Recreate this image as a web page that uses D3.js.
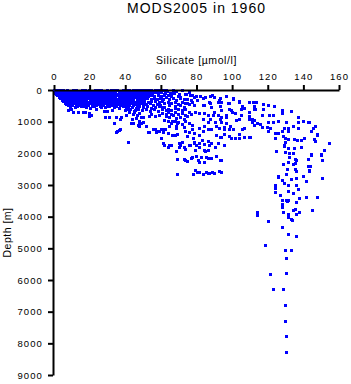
<!DOCTYPE html>
<html>
<head>
<meta charset="utf-8">
<script src="https://cdn.jsdelivr.net/npm/d3@7"></script>
<style>
  html, body { margin: 0; padding: 0; background: #fff; }
  svg { display: block; }
  text { font-family: "Liberation Sans", Arial, sans-serif; fill: #000; }
</style>
</head>
<body>
<svg id="chart" width="351" height="384"></svg>
<script>
const title = "MODS2005 in 1960";
const xLabel = "Silicate [\u00b5mol/l]";
const yLabel = "Depth [m]";
const xTicks = [0, 20, 40, 60, 80, 100, 120, 140, 160];
const yTicks = [0, 1000, 2000, 3000, 4000, 5000, 6000, 7000, 8000, 9000];

// [silicate µmol/l, depth m] — dense near-surface band
const surfaceBand = [
  [0.4,12],[2.1,30],[3.9,8],[5.6,26],[7.4,14],[9.1,35],[10.9,6],[12.7,22],[14.4,40],[16.2,10],[17.9,28],[19.7,15],[21.5,36],[23.2,9],[25,24],[26.8,12],[28.5,33],[30.3,18],[32,7],[33.8,29],[35.6,14],[37.3,38],[39.1,10],[40.8,25],[42.6,16],[44.4,31],[46.1,8],[47.9,21],[49.6,12],[51.4,27],[53.1,9],[55,20],[56.8,8],[58.6,30],[60.3,15],[62,25],
  [1.3,55],[3,68],[4.8,48],[6.5,62],[8.3,52],[10,70],[11.8,45],[13.6,60],[15.3,50],[17.1,66],[18.8,47],[20.6,58],[22.4,69],[24.1,52],[25.9,63],[27.7,46],[29.4,57],[31.2,68],[32.9,50],[34.7,61],[36.5,45],[38.2,65],[40,54],[41.7,48],[43.5,67],[45.3,56],[47,62],[48.8,45],[50.5,59],[52.3,68],[54.1,50],[55.9,64],
  [0.8,95],[2.6,120],[4.3,88],[6.1,110],[7.8,130],[9.6,92],[11.4,115],[13.1,84],[14.9,126],[16.6,100],[18.4,80],[20.2,118],[21.9,97],[23.7,131],[25.5,86],[27.2,108],[29,124],[30.7,90],[32.5,112],[34.3,82],[36,128],[37.8,104],[39.5,93],[41.3,119],[43.1,85],[44.8,110],[46.6,127],[48.3,95],[50.1,115],[51.8,88],[53.5,100],[55.3,125],[57,90],[58.8,115],[60.6,85],[62.4,120],
  [1.6,145],[3.4,158],[5.2,138],[6.9,152],[8.7,140],[10.4,160],[12.2,135],[14,150],[15.7,142],[17.5,157],[19.3,137],[21,148],[22.8,160],[24.5,139],[26.3,153],[28.1,144],[29.8,136],[31.6,158],[33.4,147],[35.1,140],[36.9,155],[38.6,138],[40.4,150],[42.2,159],[43.9,143],[45.7,136],[47.4,152],[49.2,146],[51,139],[52.7,157],[54.5,141],
  [2.2,175],[3.9,205],[5.7,182],[7.4,215],[9.2,170],[11,198],[12.7,220],[14.5,186],[16.2,172],[18,210],[19.8,191],[21.5,218],[23.3,176],[25,203],[26.8,187],[28.6,214],[30.3,171],[32.1,199],[33.8,222],[35.6,184],[37.4,208],[39.1,173],[40.9,196],[42.6,216],[44.4,181],[46.2,205],[47.9,190],[49.7,212],[51.4,178],[53.2,195],[55,170],[56.7,215],[58.5,185],[60.3,205],[62,175],
  [3,235],[4.7,228],[6.5,242],[8.3,226],[10,238],[11.8,245],[13.6,230],[15.3,240],[17.1,225],[18.9,236],[20.6,244],[22.4,229],[24.1,239],[25.9,227],[27.7,243],[29.4,232],[31.2,226],[33,241],[34.7,234],[36.5,245],[38.2,228],[40,237],[41.8,230],[43.5,244],[45.3,226],[47.1,238],[48.8,233],[50.6,242],[52.4,227],
  [3.6,270],[5.2,300],[7,258],[8.8,290],[10.5,305],[12.3,265],[14,284],[15.8,310],[17.6,252],[19.3,278],[21.1,298],[22.8,262],[24.6,288],[26.4,307],[28.1,256],[29.9,281],[31.6,300],[33.4,268],[35.2,292],[36.9,255],[38.7,276],[40.4,303],[42.2,264],[44,286],[45.7,250],[47.5,296],[49.2,272],[51,288],[52.7,260],[54.5,290],[56.3,255],[58,300],[59.8,270],[61.6,295],
  [4.5,325],[6.2,318],[8,333],[9.7,320],[11.5,330],[13.3,316],[15,328],[16.8,335],[18.5,322],[20.3,317],[22,331],[23.8,324],[25.6,336],[27.3,319],[29.1,327],[30.8,334],[32.6,321],[34.4,315],[36.1,330],[37.9,325],[39.6,318],[41.4,333],[43.2,322],[44.9,328],[46.7,316],[48.4,335],[50.2,324],
  [5.3,360],[7.1,385],[8.8,350],[10.6,395],[12.4,342],[14.1,372],[15.9,398],[17.6,355],[19.4,380],[21.2,345],[22.9,390],[24.7,365],[26.4,400],[28.2,348],[30,378],[31.7,356],[33.5,393],[35.2,340],[37,370],[38.8,388],[40.5,352],[42.3,382],[44,362],[45.8,396],[47.6,346],[49.3,375],[51,360],[53,385],[55,350],[57,372],[59,395],[61,358],
  [6.2,415],[8,425],[9.7,408],[11.5,420],[13.2,430],[15,412],[16.8,424],[18.5,406],[20.3,418],[22,428],[23.8,410],[25.6,422],[27.3,405],[29.1,416],[30.8,429],[32.6,411],[34.4,421],[36.1,407],[37.9,426],[39.6,414],[41.4,419],[43.2,409],[44.9,427],[46.7,413],[48.4,423],
  [7.2,450],[9,480],[10.7,440],[12.5,470],[14.3,490],[16,445],[17.8,465],[19.5,485],[21.3,432],[23.1,476],[24.8,455],[26.6,488],[28.3,438],[30.1,468],[31.9,447],[33.6,482],[35.4,460],[37.1,436],[38.9,474],[40.7,452],[42.4,486],[44.2,442],[45.9,470],[47.7,458],[50,445],[52,470],[54,440],[56,485],[58,455],[60,475],[62,440],
  [8.3,505],[10.5,498],[13,512],[15,500],[17,510],[19.2,496],[21.5,508],[24,502],[26,514],[28,497],[30.5,507],[33,500],[35.2,511],[37.5,498],[40,506],[42,515],[44.5,499],[47,509],
  [9.5,540],[12,565],[15.5,525],[18,550],[20.5,575],[23,530],[26.5,560],[29,540],[31,520],[34,555],[36.5,580],[39,535],[41.5,560],[44,545],[46.5,570],[48,530],[50.5,555],[52.5,520],[55,570],[57,540],[59.5,525],[61,560]
];

// scattered points below the band and on the shelf (silicate 0–115)
const shelfPoints = [
  [7.9,632],[9.8,611],[11.1,695],[13.5,695],[16.3,695],[17.8,695],[20,737],[19.7,842],[21,821],[28.5,674],[30.3,674],[29,853],[30.9,874],[35,874],[37.8,874],[37.3,926],[34.1,1053],[24,620],[33,640],[40,650],[43,620],[46,660],
  [40.6,610],[42.5,640],[45,680],[47.5,620],[49.5,655],[52,600],[54,690],[56.5,630],[58.5,665],[61,615],[63,650],
  [42.5,716],[45.3,716],[46.6,821],[50,874],[53.7,842],[57.1,842],[59,800],[40.6,821],[44.4,789],[46.3,895],[49.1,863],[55,760],[48,740],[61,730],[63,780],
  [63.5,40],[65.5,95],[67.8,105],[64.5,160],[69,60],[70.5,140],[72.1,21],[74.3,147],[66,200],[76,90],[78,170],[71,230],
  [63,250],[65,300],[67,280],[69,330],[71,260],[73,310],[75,290],[77,340],[64,380],[66,420],[68,400],[70,450],[72,390],[74,430],[76,470],[78,410],[80.8,316],[75.2,442],[79,505],[83.7,474],[65,480],[68,520],[71,500],[73,540],
  [62,560],[64,600],[66,640],[68,580],[70,620],[72,660],[74,600],[76,700],[64,720],[66,760],[68,700],[70,780],[72,740],[74,800],[63,840],[65,880],[67,820],[69,900],[71,860],[73,920],[75,850],[77,780],[79.6,695],[81.8,737],[84.6,737],[86.5,821],[89.3,821],
  [62,960],[64,1000],[66,1050],[68,980],[70,1030],[72,1100],[74,1000],[76,1060],[78,1130],[65,1150],[69,1200],[73,1180],[66.8,1000],[68.7,1158],[69.6,1053],[78,1263],[81.8,1221],[83.7,1295],[87,1242],[61.2,1242],[62.7,1263],[55.6,1242],[57.8,1347],[60.3,1263],[57.5,1305],
  [43.5,1053],[48.1,1032],[50,1032],[48.1,1158],[51.9,1137],[44.4,1053],[47.2,1116],[49.1,1053],[48.1,979],[44,947],[52.8,1347],[61.2,1347],[64,1368],[68.3,1432],[53.4,1347],[57.1,1263],[59,1295],[35.9,1295],[37.3,1263],[36.9,1284],[35,1347],[42.1,1653],[61.2,1684],[65,1737],[62.2,1768],[65.9,1747],[60.3,1537],[66.8,1432],[69.6,1400],[71,1684],
  [56,63],[60.3,21],[58,35],[63,15],[67,25],[72,10],[62,150],[66,110],[70,200],[74,130],[76.6,180],[79,230],[82,210],[85,250],[88,190],[90,240],[93.5,260],[101,260],[97,200],
  [79.9,210],[83.7,274],[88.9,189],[87.4,379],[93,316],[94,400],[98.2,421],[100.5,295],[104.3,379],[109.9,379],[113.6,379],[84.6,505],[88.4,558],[93.4,527],[94,663],[98.6,611],[100.2,716],[105.8,527],[107.1,590],[109.9,695],[113.2,611],[87.8,421],[92.6,400],[98.6,442],[103.9,358],[105.2,611],[90.2,716],[99.6,653],[102,737],
  [91.2,1137],[93,1221],[95.8,1189],[98.6,1242],[100.5,1263],[107.1,1221],[83.7,926],[87.8,947],[90.8,1011],[94,1032],[97.1,1053],[102.7,968],[104.3,926],[109.9,926],[111.7,1011],[114.5,1053],[92.1,800],[94,874],[96.8,874],[91.2,1432],[93.4,1505],[95.8,1400],[98.6,1474],[102,1537],[104.3,1516],[109.9,1505],[73.9,1295],[75.8,1347],[79,1368],[75.2,1453],[78.4,1537],[81.8,1432],[83.3,1610],[86.5,1642],[84.6,1158],[88.4,1263],[87,1032],[93.4,926],[99,1137],[95.8,1263],[103.9,1421],[106.1,1242],[106.7,1495],[94,1495],[99.6,1526],[105.4,821],[97.1,821],[102.4,968],[109.9,842],[111.7,947]
];

// intermediate cluster (silicate 60–95, 1600–2700 m)
const midCluster = [
  [92.1,1684],[95.8,1768],[81.8,1684],[87.4,1768],[79,1705],[72.4,1663],[71,1747],[68.7,1947],[73.9,1874],[75.8,1768],[79.6,1895],[84.6,1916],[90.8,1810],[61.2,1705],[65,1747],[64,1810],[70.2,1684],[70.2,1810],[73.4,1810],[76.6,1747],[79,1663],[79.9,1768],[81.8,1810],[84.4,1726],[85.2,1937],[88.4,1684],[87,1916],
  [69.1,2189],[73.4,2189],[74.7,2253],[77.1,2158],[79.9,2105],[81.8,2274],[84.6,2295],[82.8,2147],[85.6,2137],[88.4,2168],[91.2,2105],[94,2232],[73.9,2211],[77.7,2126],[81.4,2232],[86.5,2158],[93.4,2232],
  [69.1,2663],[78.4,2653],[80.8,2590],[83.7,2674],[85.6,2590],[87.4,2632],[90.2,2632],[93,2568],[94,2610],[79.2,2547],[81.8,2610],[86.5,2632],[88.9,2610]
];

// deep-water cluster (silicate 100–155, 400–3600 m)
const deepCluster = [
  [112.1,379],[112.7,527],[112.7,611],[117.7,453],[120.2,505],[123.9,527],[117.7,611],[128,632],[128,737],[133.3,674],[121.1,821],[123,800],[117,821],[111.4,968],[112.8,968],[120.7,1011],[123,1011],[126,989],[130.8,1011],[137,853],[137.2,1011],[139.8,979],[142.8,1011],[112.8,1116],[116.2,1095],[117.3,1179],[119.6,1179],[121.8,1200],[129.3,1211],[131.9,1211],[134.2,1137],[137,1211],[146.9,1137],[145.8,1221],[144.3,1295],[120.2,1326],[124.1,1368],[126,1368],[128.2,1305],[131.9,1316],[110.3,1505],[124.1,1526],[128.6,1484],[129.7,1516],[131.9,1558],[135,1558],[136.7,1610],[138.9,1579],[140.7,1537],[148,1432],[146,1558],[146.9,1642],[154.8,1684],[130.1,1663],[129.3,1768],[131.9,1832],[135,1853],[138.9,1800],[124.9,1937],[129.7,1979],[132.3,2000],[134.2,2021],[144.8,2042],[149.9,2042],[152,1916],[147.9,1421],[143.2,1032],[139.8,1000],[129.5,1789],
  [132.3,2126],[135.7,2189],[144.7,2063],[151.8,1916],[142.8,2189],[151,2232],[129,2347],[131.9,2295],[134.6,2347],[142.8,2410],[131.2,2495],[135.3,2505],[136.1,2579],[143.7,2568],[130.8,2653],[139.8,2716],[125.8,2747],[133.1,2842],[135.9,2800],[128,2863],[129.5,2947],[131.9,3000],[136.1,3000],[142,2905],[151,2810],[124.1,3021],[124.1,3116],[124.1,3232],[131.9,3200],[137,3137],[134.6,3263],[127.1,3347],[138,3421],[142,3389],[147.7,3389],[130.8,3474],[131.9,3505],[128,3611],[135.9,3558],[150.1,2084],[144,2400],[143.2,2547],[136.1,2211],[135.7,2316],[125.8,2758]
];

// abyssal points (below ~3500 m)
const abyssal = [
  [114,3853],[114,3958],[120.2,4137],[128,4337],[131.9,4558],[135.9,4611],[119,4905],[129.7,5063],[133.1,5063],[130.8,5316],[121.8,5811],[130.8,5779],[123,6295],[129,6295],[129.7,6800],[129.9,7305],[130.8,7790],[130.8,8284],[144.9,3811],[138,3863],[135.9,3926],[131.9,3916],[129,3874],[133.1,4074],[133.8,4127],[131.9,4021],[128,3632],[128,3716],[135.9,3558],[131,3527],[128,3505],[135.7,3769],[134.7,3811]
];

const svg = d3.select("#chart");

const x = d3.scaleLinear().domain([0, 160]).range([54, 339]);
const y = d3.scaleLinear().domain([0, 9000]).range([90, 375]);

// title
svg.append("text")
  .attr("x", 196.5).attr("y", 13)
  .attr("text-anchor", "middle")
  .attr("letter-spacing", "1")
  .style("font-size", "14px")
  .text(title);

// points
const allPoints = surfaceBand.concat(shelfPoints, midCluster, deepCluster, abyssal);
const s = 3;
svg.append("g")
  .attr("shape-rendering", "crispEdges")
  .selectAll("rect")
  .data(allPoints)
  .join("rect")
  .attr("x", d => x(d[0]) - s / 2)
  .attr("y", d => y(d[1]) - s / 2)
  .attr("width", s).attr("height", s)
  .attr("fill", "#0000ff");

// top axis
const xAxis = d3.axisTop(x).tickValues(xTicks).tickFormat(d3.format("d")).tickSize(5).tickSizeOuter(0).tickPadding(5);
const gx = svg.append("g").attr("transform", "translate(0,90)").call(xAxis);
gx.select(".domain").attr("stroke-width", 2);
gx.selectAll(".tick line").attr("stroke-width", 2);
gx.selectAll(".tick text").style("font-size", "9.5px").style("font-family", "Liberation Sans, Arial, sans-serif").attr("letter-spacing", "1.1");

// left axis
const yAxis = d3.axisLeft(y).tickValues(yTicks).tickFormat(d3.format("d")).tickSize(5).tickSizeOuter(0).tickPadding(5);
const gy = svg.append("g").attr("transform", "translate(53,0)").call(yAxis);
gy.select(".domain").attr("stroke-width", 2);
gy.selectAll(".tick line").attr("stroke-width", 2);
gy.selectAll(".tick text").style("font-size", "9.5px").style("font-family", "Liberation Sans, Arial, sans-serif").attr("letter-spacing", "1.1");

// axis labels
svg.append("text")
  .attr("x", 196.5).attr("y", 64)
  .attr("text-anchor", "middle")
  .attr("letter-spacing", "0.6")
  .style("font-size", "10.5px")
  .text(xLabel);

svg.append("text")
  .attr("transform", "translate(11,232.5) rotate(-90)")
  .attr("text-anchor", "middle")
  .attr("letter-spacing", "0.5")
  .style("font-size", "10.5px")
  .text(yLabel);
</script>
</body>
</html>
